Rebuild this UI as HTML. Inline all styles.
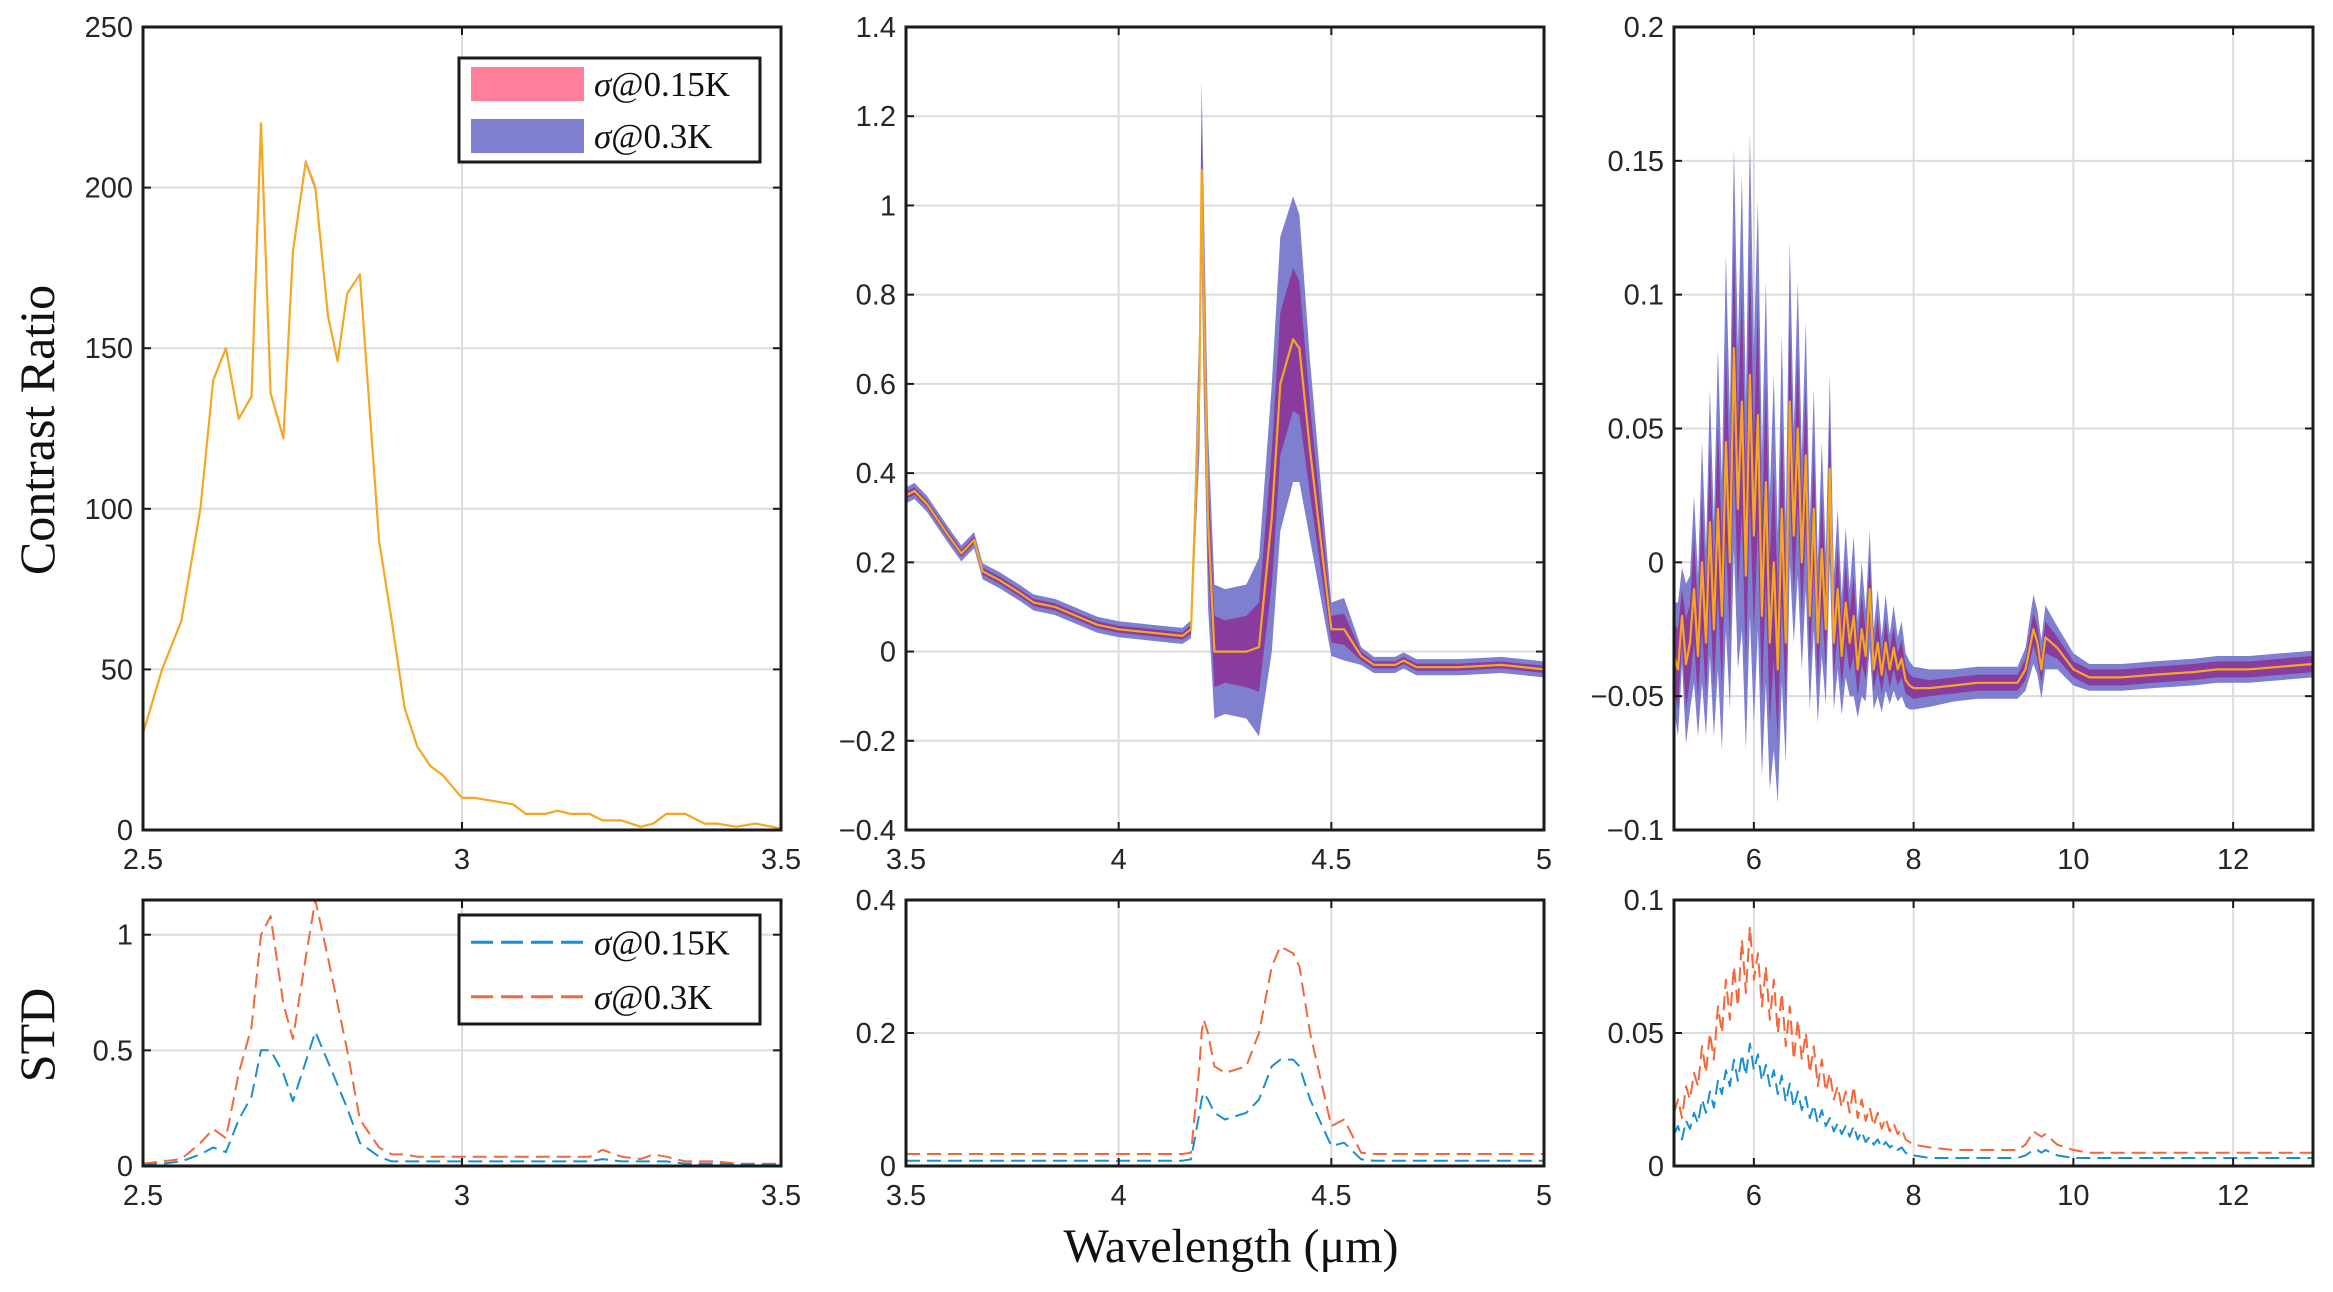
<!DOCTYPE html>
<html><head><meta charset="utf-8">
<style>
html,body{margin:0;padding:0;background:#fff;}
svg{display:block;}
.tick{font-family:"Liberation Sans",sans-serif;font-size:29px;fill:#262626;}
.lab{font-family:"Liberation Serif",serif;fill:#111;}
</style></head>
<body>
<svg id="fig" width="2333" height="1292" viewBox="0 0 2333 1292" xmlns="http://www.w3.org/2000/svg">
<rect width="2333" height="1292" fill="#fff"/>
<text class="lab" font-size="50" text-anchor="middle" transform="translate(54,430) rotate(-90)">Contrast Ratio</text>
<text class="lab" font-size="50" text-anchor="middle" transform="translate(54,1035) rotate(-90)">STD</text>
<text class="lab" font-size="48" text-anchor="middle" x="1231" y="1262">Wavelength (μm)</text>
</svg>
<script>
// Panel 1 (2.5-3.5 µm)
const x1 = [2.5,2.53,2.56,2.59,2.61,2.63,2.65,2.67,2.685,2.70,2.72,2.735,2.755,2.77,2.79,2.805,2.82,2.84,2.87,2.89,2.91,2.93,2.95,2.97,3.0,3.02,3.05,3.08,3.1,3.13,3.15,3.17,3.2,3.22,3.25,3.28,3.3,3.32,3.35,3.38,3.4,3.43,3.46,3.5];
const m1 = [30,50,65,100,140,150,128,135,220,136,122,180,208,200,160,146,167,173,90,65,38,26,20,17,10,10,9,8,5,5,6,5,5,3,3,1,2,5,5,2,2,1,2,0.5];
const s30_1 = [0.01,0.02,0.03,0.1,0.16,0.12,0.4,0.6,1.0,1.08,0.7,0.55,0.9,1.15,0.9,0.7,0.5,0.2,0.08,0.05,0.05,0.04,0.04,0.04,0.04,0.04,0.04,0.04,0.04,0.04,0.04,0.04,0.04,0.07,0.04,0.03,0.05,0.04,0.02,0.02,0.02,0.01,0.01,0.01];
const s15_1 = [0.005,0.01,0.02,0.05,0.08,0.06,0.2,0.3,0.5,0.5,0.4,0.28,0.45,0.58,0.45,0.35,0.25,0.1,0.04,0.02,0.02,0.02,0.02,0.02,0.02,0.02,0.02,0.02,0.02,0.02,0.02,0.02,0.02,0.03,0.02,0.02,0.02,0.02,0.01,0.01,0.01,0.005,0.005,0.005];
// Panel 2 (3.5-5 µm)
const x2 = [3.5,3.52,3.55,3.6,3.63,3.66,3.68,3.72,3.77,3.8,3.85,3.9,3.95,4.0,4.05,4.1,4.15,4.17,4.19,4.195,4.2,4.21,4.225,4.25,4.3,4.33,4.36,4.38,4.41,4.425,4.45,4.5,4.53,4.57,4.6,4.65,4.67,4.7,4.8,4.9,5.0];
const m2 = [0.35,0.36,0.33,0.26,0.22,0.25,0.18,0.16,0.13,0.11,0.10,0.08,0.06,0.05,0.045,0.04,0.035,0.05,0.6,1.08,0.8,0.3,0.0,0.0,0.0,0.01,0.3,0.6,0.7,0.68,0.45,0.05,0.05,-0.01,-0.03,-0.03,-0.02,-0.035,-0.035,-0.03,-0.04];
const s30_2 = [0.018,0.018,0.018,0.018,0.018,0.018,0.018,0.018,0.018,0.018,0.018,0.018,0.018,0.018,0.018,0.018,0.018,0.02,0.15,0.2,0.22,0.2,0.15,0.14,0.15,0.2,0.3,0.33,0.32,0.3,0.2,0.06,0.07,0.02,0.018,0.018,0.018,0.018,0.018,0.018,0.018];
const s15_2 = [0.008,0.008,0.008,0.008,0.008,0.008,0.008,0.008,0.008,0.008,0.008,0.008,0.008,0.008,0.008,0.008,0.008,0.01,0.08,0.1,0.11,0.1,0.08,0.07,0.08,0.1,0.15,0.16,0.16,0.15,0.1,0.03,0.035,0.01,0.008,0.008,0.008,0.008,0.008,0.008,0.008];
// Panel 3 (5-13 µm)
const x3 = [5.00,5.05,5.10,5.15,5.20,5.25,5.30,5.35,5.40,5.45,5.50,5.55,5.60,5.65,5.70,5.75,5.80,5.85,5.90,5.95,6.00,6.05,6.10,6.15,6.20,6.25,6.30,6.35,6.40,6.45,6.50,6.55,6.60,6.65,6.70,6.75,6.80,6.85,6.90,6.95,7.00,7.05,7.10,7.15,7.20,7.25,7.30,7.35,7.40,7.45,7.50,7.55,7.60,7.65,7.70,7.75,7.80,7.85,7.90,7.95,8.00,8.2,8.5,8.8,9.0,9.3,9.4,9.5,9.55,9.6,9.65,9.8,10.0,10.2,10.6,11.0,11.5,11.8,12.2,12.6,13.0];
const m3 = [-0.035,-0.04,-0.02,-0.038,-0.03,-0.01,-0.035,0.0,-0.03,0.015,-0.025,0.02,-0.02,0.045,0.0,0.08,0.02,0.06,-0.005,0.07,0.01,0.055,-0.02,0.03,-0.03,0.0,-0.04,0.02,-0.03,0.06,0.01,0.05,0.0,0.04,-0.02,0.02,-0.03,0.005,-0.025,0.035,-0.03,-0.01,-0.035,-0.015,-0.03,-0.02,-0.04,-0.025,-0.035,-0.01,-0.04,-0.03,-0.042,-0.03,-0.04,-0.032,-0.04,-0.036,-0.044,-0.046,-0.047,-0.047,-0.046,-0.045,-0.045,-0.045,-0.04,-0.025,-0.03,-0.04,-0.028,-0.032,-0.04,-0.043,-0.043,-0.042,-0.041,-0.04,-0.04,-0.039,-0.038];
const s30_3 = [0.02,0.025,0.018,0.03,0.025,0.035,0.03,0.045,0.035,0.05,0.04,0.06,0.05,0.07,0.055,0.075,0.06,0.085,0.065,0.09,0.07,0.08,0.06,0.075,0.055,0.07,0.05,0.065,0.045,0.06,0.04,0.055,0.04,0.05,0.035,0.045,0.03,0.04,0.028,0.035,0.025,0.03,0.022,0.028,0.02,0.03,0.018,0.025,0.017,0.022,0.015,0.02,0.014,0.018,0.013,0.016,0.012,0.014,0.01,0.009,0.008,0.007,0.006,0.006,0.006,0.006,0.008,0.013,0.012,0.011,0.012,0.008,0.006,0.005,0.005,0.005,0.005,0.005,0.005,0.005,0.005];
const s15_3 = [0.012,0.015,0.01,0.017,0.014,0.02,0.016,0.025,0.02,0.028,0.022,0.032,0.027,0.036,0.03,0.04,0.032,0.042,0.034,0.046,0.036,0.042,0.032,0.038,0.03,0.036,0.027,0.034,0.024,0.031,0.022,0.028,0.021,0.026,0.018,0.023,0.016,0.021,0.015,0.018,0.013,0.016,0.012,0.015,0.011,0.015,0.01,0.013,0.009,0.011,0.008,0.01,0.007,0.009,0.007,0.008,0.006,0.007,0.005,0.004,0.004,0.003,0.003,0.003,0.003,0.003,0.004,0.006,0.006,0.005,0.006,0.004,0.003,0.003,0.003,0.003,0.003,0.003,0.003,0.003,0.003];
const xt1=[2.5,3,3.5], xl1=["2.5","3","3.5"];
const xt2=[3.5,4,4.5,5], xl2=["3.5","4","4.5","5"];
const xt3=[6,8,10,12], xl3=["6","8","10","12"];
const yt1=[0,50,100,150,200,250], yl1=["0","50","100","150","200","250"];
const yt2=[-0.4,-0.2,0,0.2,0.4,0.6,0.8,1,1.2,1.4], yl2=["\u22120.4","\u22120.2","0","0.2","0.4","0.6","0.8","1","1.2","1.4"];
const yt3=[-0.1,-0.05,0,0.05,0.1,0.15,0.2], yl3=["\u22120.1","\u22120.05","0","0.05","0.1","0.15","0.2"];
const yb1=[0,0.5,1], ybl1=["0","0.5","1"];
const yb2=[0,0.2,0.4], ybl2=["0","0.2","0.4"];
const yb3=[0,0.05,0.1], ybl3=["0","0.05","0.1"];

const NS="http://www.w3.org/2000/svg";
const svg=document.getElementById('fig');
function mk(tag,attrs,parent){const e=document.createElementNS(NS,tag);for(const k in attrs)e.setAttribute(k,attrs[k]);(parent||svg).appendChild(e);return e;}

function axes(name,L,R,T,B,xmin,xmax,ymin,ymax,xt,xl,yt,yl){
  const g=mk('g',{});
  
  
  const sx=v=>L+(v-xmin)/(xmax-xmin)*(R-L);
  const sy=v=>B-(v-ymin)/(ymax-ymin)*(B-T);
  xt.forEach(v=>{const l=mk('line',{x1:sx(v),x2:sx(v),y1:T,y2:B,stroke:'#dcdcdc','stroke-width':2},g);
    
    });
  yt.forEach(v=>{const l=mk('line',{x1:L,x2:R,y1:sy(v),y2:sy(v),stroke:'#dcdcdc','stroke-width':2},g);
    
    });
  const plot=mk('g',{},g);
  
  
  return {g,plot,sx,sy,L,R,T,B,xt,xl,yt,yl};
}
function finish(a){
  const {g,sx,sy,L,R,T,B,xt,xl,yt,yl}=a;
  const fr=mk('rect',{x:L,y:T,width:R-L,height:B-T,fill:'none',stroke:'#1a1a1a','stroke-width':3},g);
  
  
  xt.forEach((v,i)=>{
    mk('line',{x1:sx(v),x2:sx(v),y1:B,y2:B-8,stroke:'#1a1a1a','stroke-width':2},g);
    mk('line',{x1:sx(v),x2:sx(v),y1:T,y2:T+8,stroke:'#1a1a1a','stroke-width':2},g);
    const t=mk('text',{x:sx(v),y:B+39,'text-anchor':'middle',class:'tick'},g);
    
    
    t.textContent=xl[i];
  });
  yt.forEach((v,i)=>{
    mk('line',{x1:L,x2:L+8,y1:sy(v),y2:sy(v),stroke:'#1a1a1a','stroke-width':2},g);
    mk('line',{x1:R,x2:R-8,y1:sy(v),y2:sy(v),stroke:'#1a1a1a','stroke-width':2},g);
    const t=mk('text',{x:L-10,y:sy(v)+10,'text-anchor':'end',class:'tick'},g);
    
    
    t.textContent=yl[i];
  });
}
function band(a,xs,m,s,fill,name){
  let d='';
  xs.forEach((x,i)=>{d+=(i?'L':'M')+a.sx(x).toFixed(1)+','+a.sy(m[i]+s[i]).toFixed(1);});
  for(let i=xs.length-1;i>=0;i--)d+='L'+a.sx(xs[i]).toFixed(1)+','+a.sy(m[i]-s[i]).toFixed(1);
  const p=mk('path',{d:d+'Z',fill:fill,stroke:'none'},a.plot);
  
  
}
function line(a,xs,ys,col,w,dash,name){
  const d=xs.map((x,i)=>(i?'L':'M')+a.sx(x).toFixed(1)+','+a.sy(ys[i]).toFixed(1)).join('');
  const p=mk('path',{d:d,fill:'none',stroke:col,'stroke-width':w,'stroke-linejoin':'round'},a.plot);
  if(dash)p.setAttribute('stroke-dasharray',dash);
  
  
}
const P=[[143,781],[906,1544],[1674,2313]];
const TT=27,TB=830,BT=900,BB=1166;
const data=[
 {x:x1,m:m1,s15:s15_1,s30:s30_1,xr:[2.5,3.5],yr:[0,250],xt:xt1,xl:xl1,yt:yt1,yl:yl1,br:[0,1.15],bt:yb1,bl:ybl1},
 {x:x2,m:m2,s15:s15_2,s30:s30_2,xr:[3.5,5],yr:[-0.4,1.4],xt:xt2,xl:xl2,yt:yt2,yl:yl2,br:[0,0.4],bt:yb2,bl:ybl2},
 {x:x3,m:m3,s15:s15_3,s30:s30_3,xr:[5,13],yr:[-0.1,0.2],xt:xt3,xl:xl3,yt:yt3,yl:yl3,br:[0,0.1],bt:yb3,bl:ybl3}
];
data.forEach((D,k)=>{
  const a=axes('contrast-panel-'+(k+1),P[k][0],P[k][1],TT,TB,D.xr[0],D.xr[1],D.yr[0],D.yr[1],D.xt,D.xl,D.yt,D.yl);
  band(a,D.x,D.m,D.s30,'#7f7fd0','band-sigma-0.3K');
  band(a,D.x,D.m,D.s15,'#8a3c9e','band-sigma-0.15K');
  line(a,D.x,D.m,'#f5a623',2.2,null,'mean-contrast-line');
  finish(a);
  const b=axes('std-panel-'+(k+1),P[k][0],P[k][1],BT,BB,D.xr[0],D.xr[1],D.br[0],D.br[1],D.xt,D.xl,D.bt,D.bl);
  line(b,D.x,D.s30,'#f2683a',2,'14,7','std-line-0.3K');
  line(b,D.x,D.s15,'#1a8fd0',2,'14,7','std-line-0.15K');
  finish(b);
});
// Legends
function legend(y0,h,items,name,patch){
  const g=mk('g',{});
  
  
  mk('rect',{x:459,y:y0,width:301,height:h,fill:'#fff',stroke:'#1a1a1a','stroke-width':3},g);
  items.forEach((it,i)=>{
    const cy=y0+h*(i+0.5)/items.length;
    if(patch){mk('rect',{x:471,y:cy-17,width:113,height:34,fill:it.c},g);}
    else{mk('line',{x1:471,x2:584,y1:cy,y2:cy,stroke:it.c,'stroke-width':3,'stroke-dasharray':'22,8'},g);}
    const t=mk('text',{x:594,y:cy+12,class:'lab','font-size':35},g);
    
    
    t.innerHTML='<tspan font-style="italic">σ</tspan>'+it.t;
  });
}
legend(58,104,[{c:'#ff7f9a',t:'@0.15K'},{c:'#7f7fd0',t:'@0.3K'}],'legend-bands',true);
legend(915,109,[{c:'#1a8fd0',t:'@0.15K'},{c:'#f2683a',t:'@0.3K'}],'legend-std',false);
</script>
</body></html>
